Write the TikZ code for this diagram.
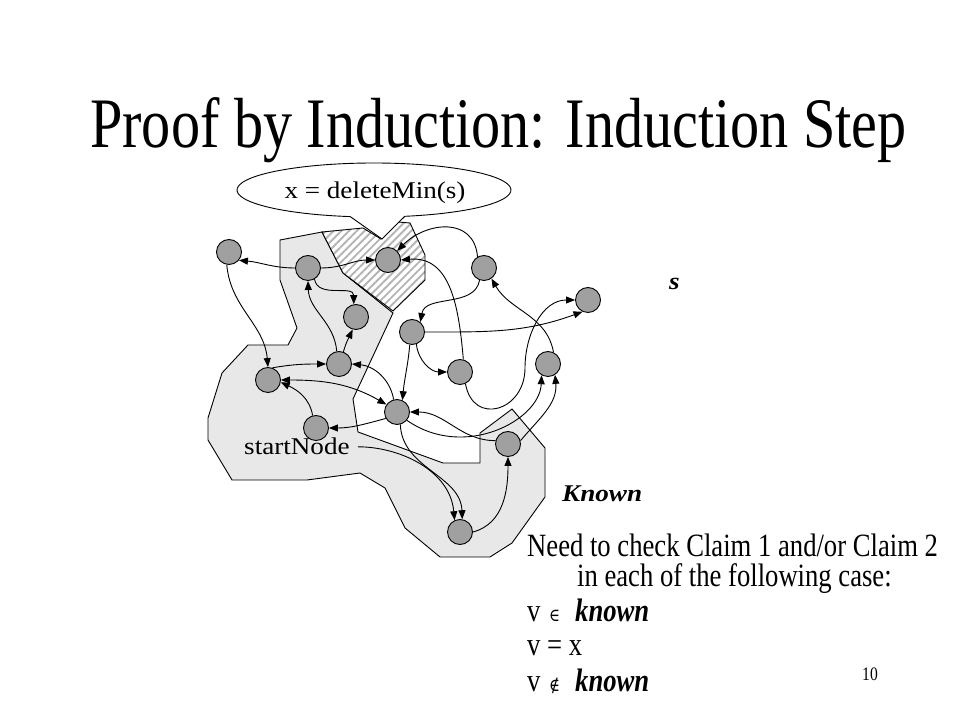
\documentclass[tikz,border=0pt]{standalone}
\usepackage{fontspec}
\setmainfont{Liberation Serif}[FakeStretch=0.82]
\newfontfamily\grfont{Liberation Serif}[FakeStretch=1.13]
\newfontfamily\symf{DejaVu Serif}[FakeStretch=0.82]
\usetikzlibrary{arrows.meta,patterns.meta}
\definecolor{nodegray}{RGB}{160,160,160}
\definecolor{knowngray}{RGB}{232,232,232}
\definecolor{hatchgray}{RGB}{180,180,180}
\pgfdeclarelayer{fg}
\pgfsetlayers{main,fg}
\newcommand\bodysize{\fontsize{32.5}{36}\selectfont}
\newcommand\grsize{\fontsize{24}{27}\selectfont\grfont}
\tikzset{
  vert/.style={circle,draw=black,fill=nodegray,line width=0.9pt,minimum size=25pt,inner sep=0pt},
  arr/.style={line width=0.9pt,-{Triangle[length=9pt,width=7pt]}},
  dbl/.style={line width=0.9pt,{Triangle[length=9pt,width=7pt]}-{Triangle[length=9pt,width=7pt]}},
  region/.style={draw=black,line width=0.9pt},
  txt/.style={inner sep=0pt,anchor=base west,font=\bodysize},
  grtxt/.style={inner sep=0pt,anchor=base west,font=\grsize},
  hatch/.style={region,pattern={Lines[angle=45,distance=5.5pt,line width=1.9pt]},pattern color=hatchgray},
}
\begin{document}
\begin{tikzpicture}[x=1pt,y=1pt]
\useasboundingbox (0,0) rectangle (960,720);
\fill[white] (0,0) rectangle (960,720);

% known region
\draw[region,fill=knowngray] (280,480) -- (322,488) -- (343,447) -- (393,407) -- (353,321) -- (358,288) -- (443,257) -- (480,257) -- (480,287) -- (512,311) -- (545,272) -- (545,223) -- (512,177) -- (490,163) -- (440,163) -- (405,192) -- (385,232) -- (360,247) -- (307,240) -- (232,240) -- (208,280) -- (208,302) -- (222,347) -- (248,375) -- (288,375) -- (297,392) -- (280,440) -- cycle;

% hatched region (x)
\fill[white] (322,488) -- (363,492) -- (381,481) -- (398,498) -- (410,497) -- (425,465) -- (425,440) -- (393,409) -- (343,447) -- cycle;
\draw[hatch] (322,488) -- (363,492) -- (381,481) -- (398,498) -- (410,497) -- (425,465) -- (425,440) -- (393,409) -- (343,447) -- cycle;

% callout
\draw[fill=white,line width=0.9pt] (382,481) -- (350.2,503.4) arc[start angle=260,end angle=-77,x radius=137,y radius=27] -- cycle;
\node[grtxt,anchor=base] (cltext) at (375,521) {x = deleteMin(s)};

% vertices
\begin{pgfonlayer}{fg}
\node[vert] (A) at (229,468) {};
\node[vert] (B) at (308,452) {};
\node[vert] (X) at (388,460) {};
\node[vert] (C) at (356,403) {};
\node[vert] (D) at (412,388) {};
\node[vert] (E) at (484,452) {};
\node[vert] (F) at (588,420) {};
\node[vert] (G) at (460,348) {};
\node[vert] (H) at (548,356) {};
\node[vert] (I) at (397,308) {};
\node[vert] (J) at (268,340) {};
\node[vert] (K) at (339,356) {};
\node[vert] (L) at (316,292) {};
\node[vert] (M) at (508,276) {};
\node[vert] (N) at (460,188) {};
\end{pgfonlayer}

\node[grtxt] (snlbl) at (244,265) {startNode};
\coordinate (gf) at (525,352);

% edges
\draw[arr] (B.west) to[out=180,in=-5] (A.-40);
\draw[arr] (B.east) to[out=0,in=180] (X.west);
\draw[arr] (B.-60) to[out=-80,in=90,looseness=1.1] (C.100);
\draw[arr] (K.100) to[out=95,in=-88] (B.-90);
\draw[arr] (K.70) to[out=75,in=-115] (C.-105);
\draw[arr] (A.-100) to[out=-85,in=95] (J.90);
\draw[arr] (J.70) to[out=10,in=180] (K.west);
\draw[dbl] (J.east) to[out=0,in=150] (I.145);
\draw[arr] (L.105) to[out=100,in=-25] (J.-10);
\draw[arr] (I.105) to[out=100,in=-5] (K.east);
\draw[arr] (I.-150) to[out=-165,in=0] (L.east);
\draw[arr] (D.-100) to[out=-95,in=85] (I.65);
\draw[arr] (M.165) to[out=180,in=0] (I.east);
\draw[arr] (I.-40) to[out=-35,in=-92,out distance=70pt,in distance=45pt] (H.-120);
\draw[arr] (I.-75) to[out=-88,in=92] (N.80);
\draw[arr,shorten <=8pt] (snlbl.east) to[out=0,in=95] (N.115);
\draw[arr] (N.east) to[out=15,in=-90] (M.-90);
\draw[arr] (M.15) to[out=50,in=-85] (H.-57);
\draw[arr] (E.120) to[out=95,in=45,looseness=1.3] (X.45);
\draw[arr] (G.75) to[out=95,in=5,looseness=1.1] (X.east);
\draw[arr] (E.-110) to[out=-100,in=80] (D.50);
\draw[arr] (D.east) to[out=0,in=-160] (F.-115);
\draw[arr] (D.-70) to[out=-85,in=180] (G.west);
\draw[arr] (H.65) to[out=100,in=-60] (E.-55);
\draw[arr] (G.-65) to[out=-80,in=-90,looseness=1.8] (gf) to[out=90,in=180] (F.west);

% texts
\node[txt,anchor=base,font=\fontsize{71}{80}\selectfont] (title) at (498.5,572) {Proof by Induction: Induction Step};
\node[grtxt,font=\grsize\bfseries\itshape] (slbl) at (669,430) {s};
\node[grtxt,font=\grsize\bfseries\itshape] (known) at (562,502-284) {Known};
\node[txt] (need1) at (527,163) {Need to check Claim 1 and/or Claim 2};
\node[txt] (need2) at (577,133.3) {in each of the following case:};
\node[txt] (c1v) at (527,98.3) {v};
\node[txt,font=\fontsize{18}{18}\selectfont\symf] (c1s) at (549,98.3) {∈};
\node[txt,font=\bodysize\bfseries\itshape] (c1k) at (575,98.3) {known};
\node[txt] (c2) at (527,64.3) {v = x};
\node[txt] (c3v) at (527,29) {v};
\node[txt,font=\fontsize{18}{18}\selectfont\symf] (c3s) at (549,29) {∉};
\node[txt,font=\bodysize\bfseries\itshape] (c3k) at (575,29) {known};
\node[txt,font=\fontsize{19}{20}\selectfont] (pgnum) at (862,40) {10};
\end{tikzpicture}
\end{document}
